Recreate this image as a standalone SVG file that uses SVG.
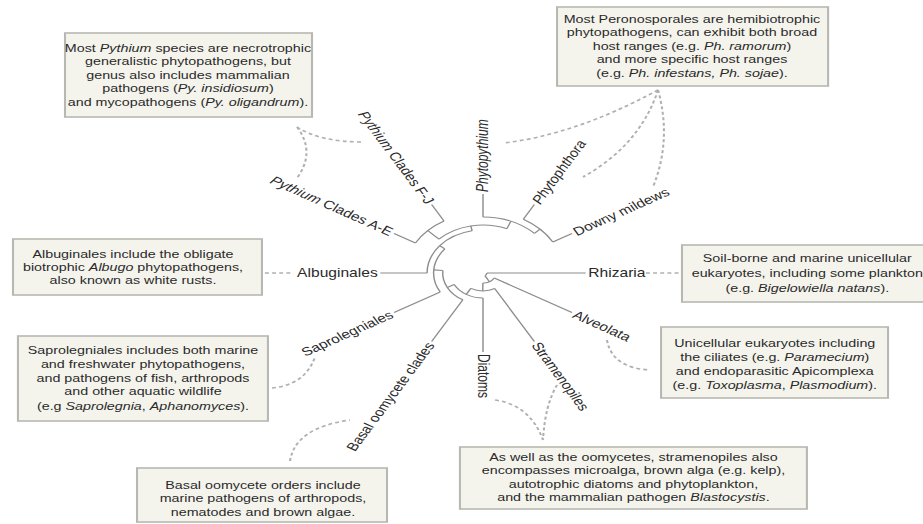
<svg xmlns="http://www.w3.org/2000/svg" width="923" height="524" viewBox="0 0 923 524">
  <style>
    .box { fill: #f4f4ed; stroke: #b8b8b2; stroke-width: 1.6; }
    .note { font-family: "Liberation Sans", Arial, sans-serif; font-size: 11px; fill: #2a2a2a; text-anchor: middle; }
    .lab { font-family: "Liberation Sans", Arial, sans-serif; font-size: 12px; fill: #2a2a2a; }
    .br { fill: none; stroke: #8c8c8c; stroke-width: 1.1; }
    .dash { fill: none; stroke: #b0b0b0; stroke-width: 1.6; stroke-dasharray: 3 2.5; }
    .it { font-style: italic; }
  </style>
  <rect width="923" height="524" fill="#ffffff"/>
  <!-- whole figure is laid out in a narrow frame and widened 1.3x -->
  <g transform="scale(1.3,1)">
    <!-- annotation boxes -->
    <g id="note-pythium">
      <rect class="box" x="50" y="33" width="190" height="84"/>
      <text class="note" x="144.6" y="52">Most <tspan class="it">Pythium</tspan> species are necrotrophic</text>
      <text class="note" x="144.6" y="65.5">generalistic phytopathogens, but</text>
      <text class="note" x="144.6" y="79">genus also includes mammalian</text>
      <text class="note" x="144.6" y="92.5">pathogens (<tspan class="it">Py. insidiosum</tspan>)</text>
      <text class="note" x="144.6" y="106">and mycopathogens (<tspan class="it">Py. oligandrum</tspan>).</text>
    </g>
    <g id="note-peronosporales">
      <rect class="box" x="428.5" y="7" width="208.5" height="79"/>
      <text class="note" x="532.3" y="23">Most Peronosporales are hemibiotrophic</text>
      <text class="note" x="532.3" y="36.5">phytopathogens, can exhibit both broad</text>
      <text class="note" x="532.3" y="50">host ranges (e.g. <tspan class="it">Ph. ramorum</tspan>)</text>
      <text class="note" x="532.3" y="63.5">and more specific host ranges</text>
      <text class="note" x="532.3" y="77">(e.g. <tspan class="it">Ph. infestans, Ph. sojae</tspan>).</text>
    </g>
    <g id="note-albuginales">
      <rect class="box" x="10" y="239" width="191.5" height="56"/>
      <text class="note" x="102.3" y="258.5">Albuginales include the obligate</text>
      <text class="note" x="102.3" y="271.5">biotrophic <tspan class="it">Albugo</tspan> phytopathogens,</text>
      <text class="note" x="102.3" y="284.5">also known as white rusts.</text>
    </g>
    <g id="note-rhizaria">
      <rect class="box" x="524.6" y="245" width="230" height="57"/>
      <text class="note" x="621" y="262">Soil-borne and marine unicellular</text>
      <text class="note" x="621" y="277">eukaryotes, including some plankton</text>
      <text class="note" x="621" y="292">(e.g. <tspan class="it">Bigelowiella natans</tspan>).</text>
    </g>
    <g id="note-saprolegniales">
      <rect class="box" x="13.8" y="336" width="192.3" height="85"/>
      <text class="note" x="110" y="354">Saprolegniales includes both marine</text>
      <text class="note" x="110" y="368">and freshwater phytopathogens,</text>
      <text class="note" x="110" y="382">and pathogens of fish, arthropods</text>
      <text class="note" x="110" y="395.5">and other aquatic wildlife</text>
      <text class="note" x="110" y="410">(e.g <tspan class="it">Saprolegnia</tspan>, <tspan class="it">Aphanomyces</tspan>).</text>
    </g>
    <g id="note-basal">
      <rect class="box" x="105.4" y="468" width="192.3" height="54"/>
      <text class="note" x="202.3" y="489">Basal oomycete orders include</text>
      <text class="note" x="202.3" y="502.5">marine pathogens of arthropods,</text>
      <text class="note" x="202.3" y="516">nematodes and brown algae.</text>
    </g>
    <g id="note-alveolata">
      <rect class="box" x="508.5" y="327" width="174.6" height="71"/>
      <text class="note" x="596" y="347">Unicellular eukaryotes including</text>
      <text class="note" x="596" y="361">the ciliates (e.g. <tspan class="it">Paramecium</tspan>)</text>
      <text class="note" x="596" y="375">and endoparasitic Apicomplexa</text>
      <text class="note" x="596" y="389">(e.g. <tspan class="it">Toxoplasma</tspan>, <tspan class="it">Plasmodium</tspan>).</text>
    </g>
    <g id="note-stramenopiles">
      <rect class="box" x="353.8" y="447" width="266.9" height="62"/>
      <text class="note" x="487.3" y="461">As well as the oomycetes, stramenopiles also</text>
      <text class="note" x="487.3" y="474.5">encompasses microalga, brown alga (e.g. kelp),</text>
      <text class="note" x="487.3" y="488">autotrophic diatoms and phytoplankton,</text>
      <text class="note" x="487.3" y="501.5">and the mammalian pathogen <tspan class="it">Blastocystis</tspan>.</text>
    </g>

    <!-- dashed leaders from notes to clades -->
    <g id="leaders">
      <path class="dash" d="M228.5 127 Q246 142 279.2 142"/>
      <path class="dash" d="M228.5 127 Q243 152 228.5 178"/>
      <path class="dash" d="M506.2 90 Q442.3 135 386.9 143"/>
      <path class="dash" d="M506.2 90 Q492.3 145 448.5 177"/>
      <path class="dash" d="M506.2 90 Q516.9 140 502.3 187"/>
      <path class="dash" d="M203.8 273 H224.6"/>
      <path class="dash" d="M496.9 273 H523"/>
      <path class="dash" d="M209.2 388 Q234.6 385 242.3 357"/>
      <path class="dash" d="M223.1 461 Q226.9 428 269.2 420"/>
      <path class="dash" d="M466.9 340 Q470.8 368 500 370"/>
      <path class="dash" d="M380.8 400 Q407.7 405 417.7 440"/>
      <path class="dash" d="M428.5 385 Q419.2 405 417.7 440"/>
    </g>

    <!-- circular tree, centred on the root -->
    <g id="tree" transform="translate(371.54,273)">
      <g id="connectors">
        <!-- arcs at internal nodes -->
        <path class="br" d="M3 0 A3 3 0 0 1 1.487 2.606"/>
        <path class="br" d="M8.660 5 A10 10 0 0 1 -0.103 10"/>
        <path class="br" d="M9 15.588 A18 18 0 0 1 -9.315 15.403"/>
        <path class="br" d="M0 25 A25 25 0 0 1 -22.145 11.605"/>
        <path class="br" d="M-15.5 26.847 A31 31 0 0 1 -30.896 -2.536"/>
        <path class="br" d="M-32.909 19 A38 38 0 0 1 -29.366 -24.115"/>
        <path class="br" d="M-43 0 A43 43 0 0 1 -8.389 -42.174"/>
        <path class="br" d="M-33.941 -33.941 A48 48 0 0 1 18.370 -44.347"/>
        <path class="br" d="M-51.962 -30 A60 60 0 0 1 -30 -51.962"/>
        <path class="br" d="M0 -56 A56 56 0 0 1 39.598 -39.598"/>
        <path class="br" d="M31 -53.694 A62 62 0 0 1 53.694 -31"/>
        <!-- radial branches -->
        <path class="br" d="M3 0 H79"/>
        <path class="br" d="M3 0 H10" transform="rotate(60.29)"/>
        <path class="br" d="M10 0 H79" transform="rotate(30)"/>
        <path class="br" d="M10 0 H18" transform="rotate(90.59)"/>
        <path class="br" d="M18 0 H79" transform="rotate(60)"/>
        <path class="br" d="M18 0 H25" transform="rotate(121.17)"/>
        <path class="br" d="M25 0 H79" transform="rotate(90)"/>
        <path class="br" d="M25 0 H31" transform="rotate(152.34)"/>
        <path class="br" d="M31 0 H79" transform="rotate(120)"/>
        <path class="br" d="M31 0 H38" transform="rotate(184.69)"/>
        <path class="br" d="M38 0 H79" transform="rotate(150)"/>
        <path class="br" d="M38 0 H43" transform="rotate(219.375)"/>
        <path class="br" d="M43 0 H79" transform="rotate(180)"/>
        <path class="br" d="M43 0 H48" transform="rotate(258.75)"/>
        <path class="br" d="M48 0 H60" transform="rotate(225)"/>
        <path class="br" d="M60 0 H79" transform="rotate(210)"/>
        <path class="br" d="M60 0 H79" transform="rotate(240)"/>
        <path class="br" d="M48 0 H56" transform="rotate(292.5)"/>
        <path class="br" d="M56 0 H79" transform="rotate(270)"/>
        <path class="br" d="M56 0 H62" transform="rotate(315)"/>
        <path class="br" d="M62 0 H79" transform="rotate(300)"/>
        <path class="br" d="M62 0 H79" transform="rotate(330)"/>
      </g>
      <!-- leaf labels -->
      <g id="leaf-rhizaria"><text class="lab" transform="translate(81,0)" dy="0.35em">Rhizaria</text></g>
      <g id="leaf-alveolata"><text class="lab" transform="rotate(30) translate(81,0)" dy="0.35em">Alveolata</text></g>
      <g id="leaf-stramenopiles"><text class="lab" transform="rotate(60) translate(81,0)" dy="0.35em">Stramenopiles</text></g>
      <g id="leaf-diatoms"><text class="lab" transform="rotate(90) translate(81,0)" dy="0.35em">Diatoms</text></g>
      <g id="leaf-basal"><text class="lab" text-anchor="end" transform="rotate(120) translate(81,0) rotate(180)" dy="0.35em">Basal oomycete clades</text></g>
      <g id="leaf-saprolegniales"><text class="lab" text-anchor="end" transform="rotate(150) translate(81,0) rotate(180)" dy="0.35em">Saprolegniales</text></g>
      <g id="leaf-albuginales"><text class="lab" text-anchor="end" transform="rotate(180) translate(81,0) rotate(180)" dy="0.35em">Albuginales</text></g>
      <g id="leaf-pythium-ae"><text class="lab" text-anchor="end" transform="rotate(210) translate(81,0) rotate(180)" dy="0.35em"><tspan class="it">Pythium</tspan> Clades A-E</text></g>
      <g id="leaf-pythium-fj"><text class="lab" text-anchor="end" transform="rotate(240) translate(81,0) rotate(180)" dy="0.35em"><tspan class="it">Pythium</tspan> Clades F-J</text></g>
      <g id="leaf-phytopythium"><text class="lab it" transform="rotate(270) translate(81,0)" dy="0.35em">Phytopythium</text></g>
      <g id="leaf-phytophthora"><text class="lab it" transform="rotate(300) translate(81,0)" dy="0.35em">Phytophthora</text></g>
      <g id="leaf-downy"><text class="lab" transform="rotate(330) translate(81,0)" dy="0.35em">Downy mildews</text></g>
    </g>
  </g>
</svg>
